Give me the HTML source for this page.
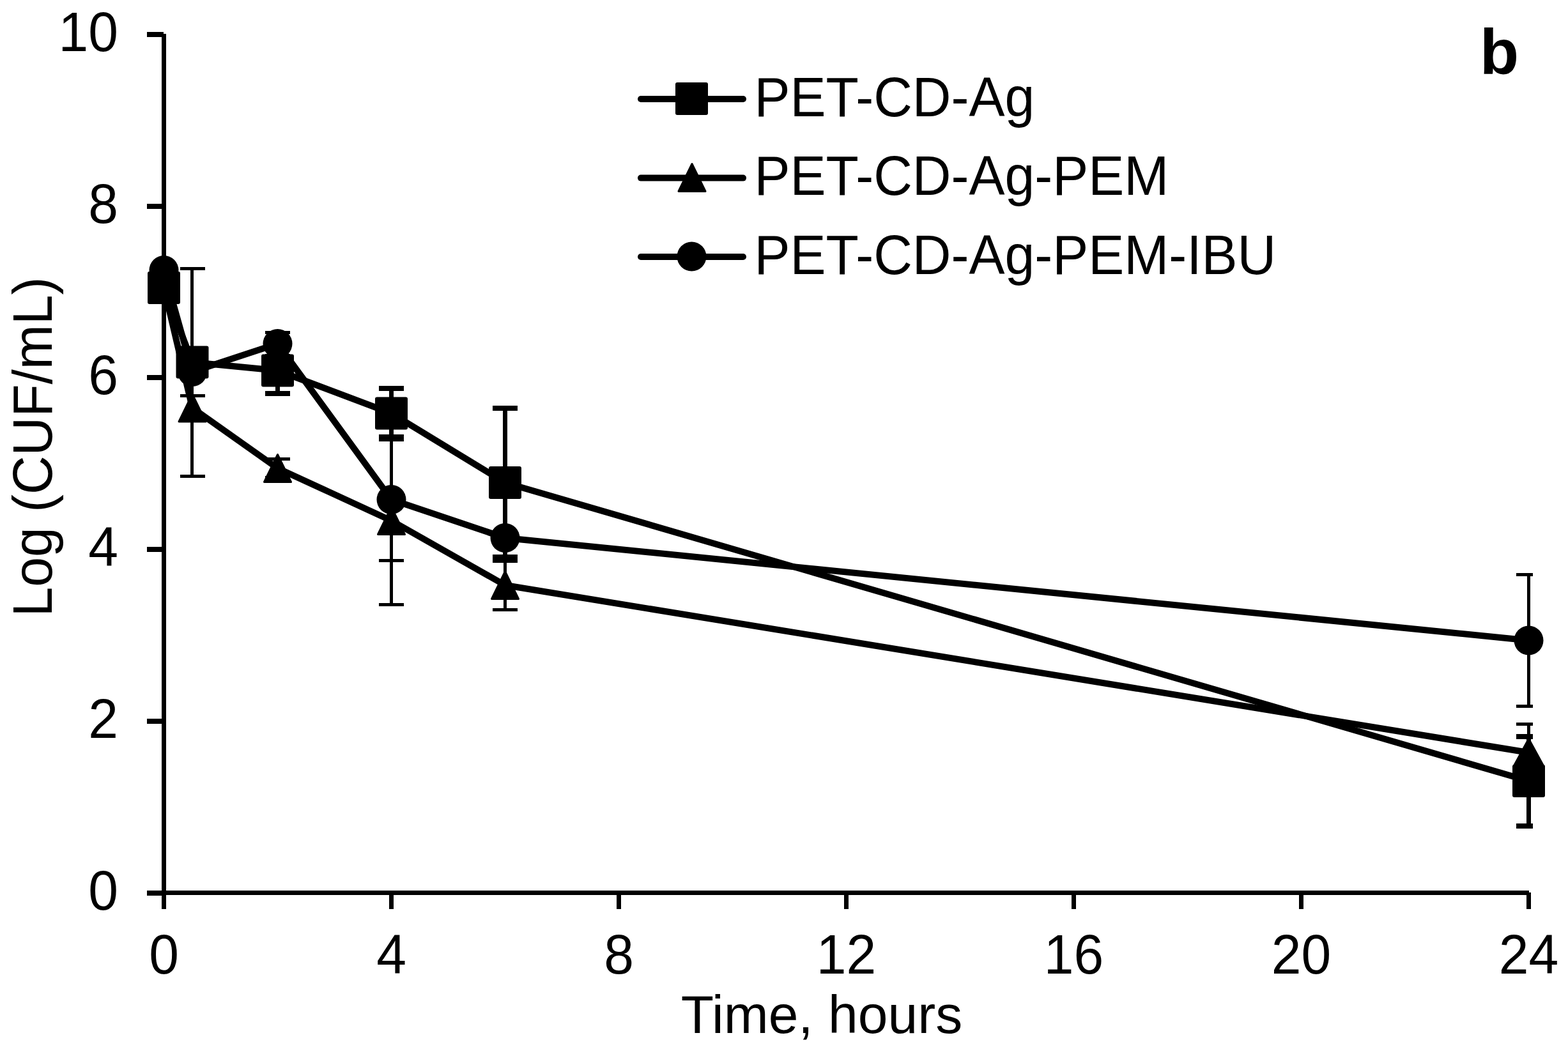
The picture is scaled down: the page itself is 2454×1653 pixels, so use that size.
<!DOCTYPE html>
<html><head><meta charset="utf-8"><title>Log (CUF/mL) vs Time</title>
<style>
html,body{margin:0;padding:0;background:#fff;}
svg{display:block;}
.t{font-family:"Liberation Sans", Arial, sans-serif;font-size:84px;fill:#000;}
.b{font-family:"Liberation Sans", Arial, sans-serif;font-size:100px;font-weight:bold;fill:#000;}
</style></head>
<body>
<svg width="2454" height="1653" viewBox="0 0 2454 1653">
<defs><clipPath id="pc"><rect x="0" y="0" width="2399" height="1653"/></clipPath></defs>
<rect width="2454" height="1653" fill="#fff"/>
<g fill="#000">
<rect x="253" y="53" width="7" height="1348"/>
<rect x="253" y="1394" width="2140" height="7"/>
<rect x="230" y="50" width="26" height="8"/>
<rect x="230" y="319" width="26" height="8"/>
<rect x="230" y="587" width="26" height="8"/>
<rect x="230" y="856" width="26" height="8"/>
<rect x="230" y="1125" width="26" height="8"/>
<rect x="230" y="1394" width="26" height="8"/>
<rect x="253.0" y="1394" width="7" height="29"/>
<rect x="609.0" y="1394" width="7" height="29"/>
<rect x="965.0" y="1394" width="7" height="29"/>
<rect x="1321.0" y="1394" width="7" height="29"/>
<rect x="1677.0" y="1394" width="7" height="29"/>
<rect x="2033.0" y="1394" width="7" height="29"/>
<rect x="2389.0" y="1397" width="7" height="26"/>
<text transform="translate(185.0,80.0) scale(1,1.04)" class="t" text-anchor="end">10</text>
<text transform="translate(185.0,348.7) scale(1,1.04)" class="t" text-anchor="end">8</text>
<text transform="translate(185.0,617.4) scale(1,1.04)" class="t" text-anchor="end">6</text>
<text transform="translate(185.0,886.1) scale(1,1.04)" class="t" text-anchor="end">4</text>
<text transform="translate(185.0,1154.8) scale(1,1.04)" class="t" text-anchor="end">2</text>
<text transform="translate(185.0,1423.5) scale(1,1.04)" class="t" text-anchor="end">0</text>
<text transform="translate(256.5,1524.0) scale(1,1.04)" class="t" text-anchor="middle">0</text>
<text transform="translate(612.5,1524.0) scale(1,1.04)" class="t" text-anchor="middle">4</text>
<text transform="translate(968.5,1524.0) scale(1,1.04)" class="t" text-anchor="middle">8</text>
<text transform="translate(1324.5,1524.0) scale(1,1.04)" class="t" text-anchor="middle">12</text>
<text transform="translate(1680.5,1524.0) scale(1,1.04)" class="t" text-anchor="middle">16</text>
<text transform="translate(2036.5,1524.0) scale(1,1.04)" class="t" text-anchor="middle">20</text>
<text transform="translate(2392.5,1524.0) scale(1,1.04)" class="t" text-anchor="middle">24</text>
<text transform="translate(1286.0,1617.0) scale(1,1.0)" class="t" text-anchor="middle">Time, hours</text>
<text transform="translate(81.0,965.5) rotate(-90) scale(1,1.035)" class="t">Log (CUF/mL)</text>
<text x="2316" y="116" class="b">b</text>
<g fill="none" stroke="#000" stroke-width="10" stroke-linejoin="round">
<polyline points="256.5,450.4 301.0,567.0 434.5,580.0 612.5,647.0 790.5,755.5 2392.5,1222.5"/>
<polyline points="256.5,450.0 301.0,638.5 434.5,733.0 612.5,815.0 790.5,916.0 2392.5,1178.0"/>
<polyline points="256.5,423.0 301.0,582.0 434.5,538.0 612.5,782.0 790.5,842.0 2392.5,1002.5"/>
</g>
<g clip-path="url(#pc)" shape-rendering="crispEdges">
<rect x="298" y="420" width="5" height="325"/>
<rect x="282" y="418" width="39" height="5"/>
<rect x="282" y="743" width="39" height="5"/>
<rect x="298" y="619" width="5" height="39"/>
<rect x="282" y="617" width="39" height="5"/>
<rect x="282" y="655" width="39" height="5"/>
<rect x="432" y="520" width="5" height="36"/>
<rect x="415" y="518" width="39" height="5"/>
<rect x="415" y="554" width="39" height="5"/>
<rect x="432" y="718" width="5" height="30"/>
<rect x="415" y="716" width="39" height="5"/>
<rect x="415" y="745" width="39" height="5"/>
<rect x="610" y="688" width="5" height="190"/>
<rect x="593" y="686" width="39" height="5"/>
<rect x="593" y="875" width="39" height="5"/>
<rect x="610" y="683" width="5" height="263"/>
<rect x="593" y="680" width="39" height="5"/>
<rect x="593" y="944" width="39" height="5"/>
<rect x="788" y="878" width="5" height="77"/>
<rect x="771" y="876" width="39" height="5"/>
<rect x="771" y="952" width="39" height="5"/>
<rect x="2390" y="900" width="5" height="206"/>
<rect x="2373" y="897" width="39" height="5"/>
<rect x="2373" y="1103" width="39" height="5"/>
<rect x="2390" y="1134" width="5" height="88"/>
<rect x="2373" y="1131" width="39" height="5"/>
<rect x="2373" y="1220" width="39" height="5"/>
<rect x="431" y="544" width="7" height="72"/>
<rect x="415" y="540" width="39" height="8"/>
<rect x="415" y="612" width="39" height="8"/>
<rect x="609" y="608" width="7" height="78"/>
<rect x="593" y="604" width="39" height="8"/>
<rect x="593" y="682" width="39" height="8"/>
<rect x="787" y="639" width="7" height="233"/>
<rect x="771" y="635" width="39" height="8"/>
<rect x="771" y="868" width="39" height="8"/>
<rect x="2389" y="1153" width="7" height="140"/>
<rect x="2373" y="1149" width="39" height="8"/>
<rect x="2373" y="1289" width="39" height="8"/>
</g>
<rect x="231.0" y="424.9" width="51" height="51" rx="3"/>
<rect x="275.5" y="541.5" width="51" height="51" rx="3"/>
<rect x="409.0" y="554.5" width="51" height="51" rx="3"/>
<rect x="587.0" y="621.5" width="51" height="51" rx="3"/>
<rect x="765.0" y="730.0" width="51" height="51" rx="3"/>
<rect x="2367.0" y="1197.0" width="51" height="51" rx="3"/>
<polygon points="256.5,428.5 235.5,471.5 277.5,471.5" stroke="#000" stroke-width="3" stroke-linejoin="round"/>
<polygon points="301.0,617.0 280.0,660.0 322.0,660.0" stroke="#000" stroke-width="3" stroke-linejoin="round"/>
<polygon points="434.5,711.5 413.5,754.5 455.5,754.5" stroke="#000" stroke-width="3" stroke-linejoin="round"/>
<polygon points="612.5,793.5 591.5,836.5 633.5,836.5" stroke="#000" stroke-width="3" stroke-linejoin="round"/>
<polygon points="790.5,894.5 769.5,937.5 811.5,937.5" stroke="#000" stroke-width="3" stroke-linejoin="round"/>
<polygon points="2392.5,1156.5 2369.0,1199.5 2416.0,1199.5" stroke="#000" stroke-width="3" stroke-linejoin="round"/>
<circle cx="256.5" cy="423.0" r="23"/>
<circle cx="301.0" cy="582.0" r="23"/>
<circle cx="434.5" cy="538.0" r="23"/>
<circle cx="612.5" cy="782.0" r="23"/>
<circle cx="790.5" cy="842.0" r="23"/>
<circle cx="2392.5" cy="1002.5" r="23"/>
<line x1="1003" y1="155" x2="1163" y2="155" stroke="#000" stroke-width="10" stroke-linecap="round"/>
<rect x="1057.0" y="129.0" width="51" height="51" rx="3"/>
<text transform="translate(1180.5,181.7) scale(1,1.04)" class="t">PET-CD-Ag</text>
<line x1="1003" y1="278.6" x2="1163" y2="278.6" stroke="#000" stroke-width="10" stroke-linecap="round"/>
<polygon points="1083.0,256.5 1062.0,299.5 1104.0,299.5" stroke="#000" stroke-width="3" stroke-linejoin="round"/>
<text transform="translate(1180.5,304.7) scale(1,1.04)" class="t">PET-CD-Ag-PEM</text>
<line x1="1003" y1="402" x2="1163" y2="402" stroke="#000" stroke-width="10" stroke-linecap="round"/>
<circle cx="1082.5" cy="401.5" r="23"/>
<text transform="translate(1180.5,428.9) scale(1,1.04)" class="t">PET-CD-Ag-PEM-IBU</text>
</g>
</svg>
</body></html>
